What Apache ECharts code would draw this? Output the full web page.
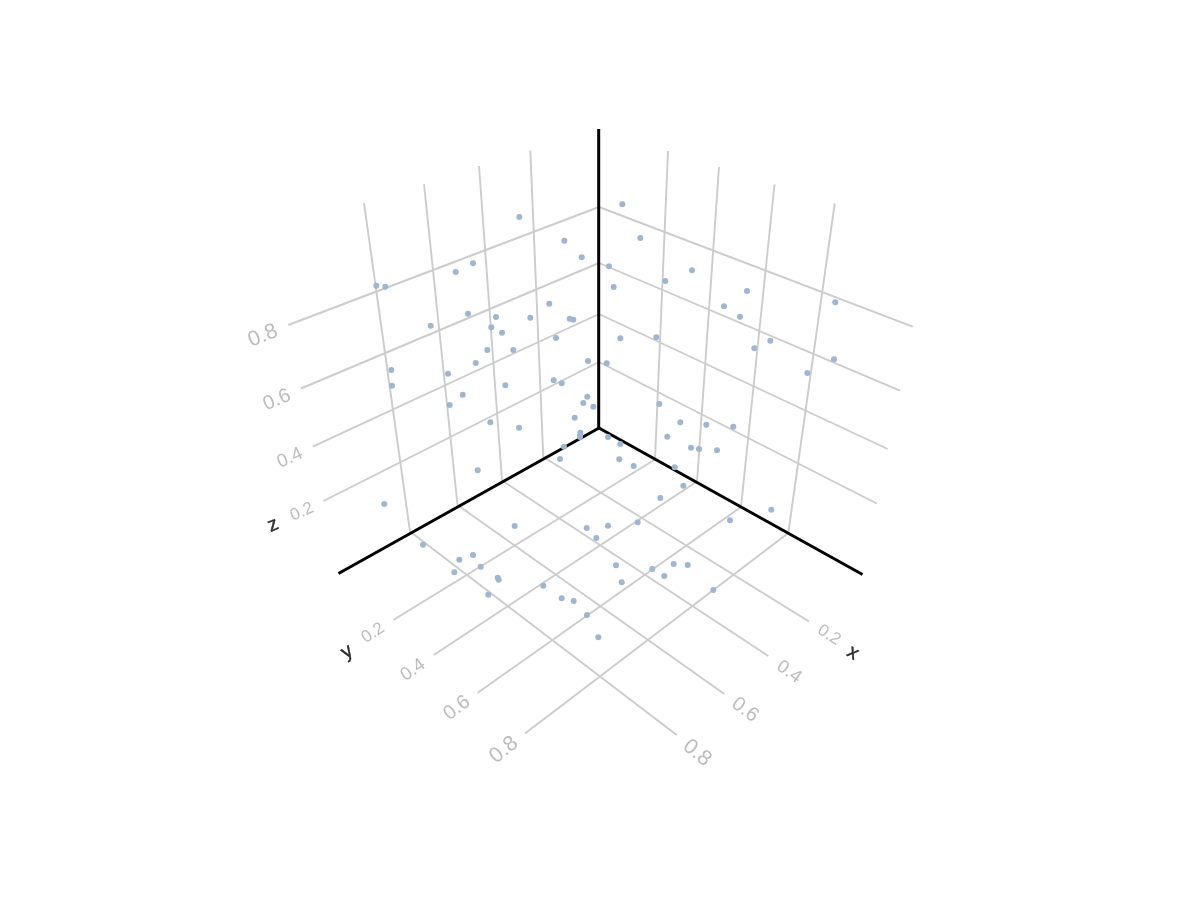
<!DOCTYPE html>
<html>
<head>
<meta charset="utf-8">
<style>html,body{margin:0;padding:0;background:#fff}#c{width:1200px;height:900px}</style>
<script src="https://cdn.jsdelivr.net/npm/echarts@6/dist/echarts.min.js"></script>
</head>
<body>
<div id="c"></div>
<script>
// All values are read in the projected plane of the 3D view.
const scatterPoints = [
[519.3,217],[564.3,240.7],[581.7,257.3],[473,263.3],[455.7,272],[376.3,285.7],[385.3,286.7],[549.3,303.7],
[468,313.7],[430.7,325.7],[496,317],[530.3,317.7],[569.7,318.7],[573.3,319.7],[491.3,327.3],[502,332.7],
[556,338],[487.3,350],[513.3,350],[391.3,370],[392,385.7],[448,373.7],[475.7,363],[588,361],[505.3,385.3],
[553.7,380.3],[561.7,383.3],[462.7,394.7],[449.7,405],[587.3,396.7],[583.3,403],[593.3,406.7],[574.7,417.7],
[490.3,422.3],[519,427.7],[580.3,432.7],[580.2,435],[580,437],[564,446.7],[560,459],[477.7,470.3],[384.3,504],
[514.7,526],[586.7,528],[596.3,538],[423,544.7],[473,555],[459.3,559.7],[480.7,566.7],[454.3,572.3],
[497.7,577.7],[498.7,579.7],[622.3,204.3],[640.3,238],[609,266.3],[692,270.3],[665.3,281],[613.7,287],
[747,291],[724,306.3],[740,316.7],[835.3,302.3],[620.3,338.3],[656.3,337.3],[770.3,340.7],[754.3,348.3],
[834,359.3],[807.3,373],[606.7,363.3],[659.3,404],[680.3,422.3],[706.3,424.7],[733.3,426.7],[667.3,436.7],
[608,437],[620.3,444],[691,447.7],[699,449],[717,450.3],[619.3,459.3],[633.7,466],[674.7,467.3],[683.3,485.7],
[660.3,498],[771.3,509.7],[730,520.3],[608,525.7],[637.7,522.3],[616,565.3],[652.3,569],[673.7,564],[687.7,565],
[664.3,576],[543.3,585.7],[488.3,594.7],[561.7,598.3],[573.7,601],[587,615],[598.3,637.3],[621.7,582.3],[713.3,590]
];
const gridSegments = [
[[410,531.5],[364,203]],[[457.5,505],[424,184]],[[502,480.5],[479,166]],[[543.3,457],[530.3,150.5]],
[[655,459.5],[668,151]],[[697,481.5],[719,167]],[[741,507],[774.5,184.5]],[[788.3,533],[834.7,203.5]],
[[599,207],[288.3,325]],[[599,263],[301,388.5]],[[599,314],[312.7,446.7]],[[599,362],[323.5,501]],
[[599,207],[912.7,326.7]],[[599,263],[900,390.7]],[[599,314],[887.7,449]],[[599,362],[876.7,503.5]],
[[543.3,457],[809,621.5]],[[502,480.5],[768.3,656]],[[457.5,505],[724.3,694]],[[410,531.5],[676.7,735]],
[[655,459.5],[393.3,620]],[[697,481.5],[433.7,655]],[[741,507],[477.7,692.7]],[[788.3,533],[525,733.5]]
];
const axisSegments = [
[[598.7,428],[598.7,129]],[[599,428],[338.5,573.5]],[[599,428],[862.5,574.5]]
];
const tickLabels = ['0.2','0.4','0.6','0.8'];
const zTickPlaces = [[302,512,17,24],[290,458,18.5,24],[277,400,20,23],[263,336,21.5,22]];
const yTickPlaces = [[373,633,17,33],[413,670,18.5,35],[457,708,20,37],[504,750,21.5,39]];
const xTickPlaces = [[829,635,17,-33],[789,672,18.5,-35],[745,710,20,-37],[697,753,21.5,-39]];
const axisNames = ['x','y','z'];
const axisNamePlaces = [[853,653,20,-32],[347,652,20,32],[273,525,20,22]];

const lineSeries = (segs, color, width, z) => segs.map(seg => ({
  type: 'line', data: seg, symbol: 'none', silent: true, z,
  lineStyle: {color, width, cap: 'butt'}
}));
const textSeries = (texts, places, color, stroke, z) => ({
  type: 'scatter', symbolSize: 1, itemStyle: {color: 'rgba(0,0,0,0)'}, silent: true, z,
  labelLayout: {hideOverlap: false},
  data: places.map((p, i) => ({
    value: [p[0], p[1]],
    label: {
      show: true, position: 'inside', formatter: texts[i], color,
      fontFamily: 'Liberation Sans', fontSize: p[2], rotate: p[3],
      align: 'center', verticalAlign: 'middle',
      textBorderColor: color, textBorderWidth: stroke
    }
  }))
});

const chart = echarts.init(document.getElementById('c'), null, {renderer: 'canvas'});
chart.setOption({
  animation: false,
  backgroundColor: '#ffffff',
  tooltip: {show: false},
  grid: {left: 0, right: 0, top: 0, bottom: 0},
  xAxis: {type: 'value', min: 0, max: 1200, show: false},
  yAxis: {type: 'value', min: 0, max: 900, inverse: true, show: false},
  series: [
    ...lineSeries(gridSegments, '#cccccc', 1.9, 1),
    ...lineSeries(axisSegments, '#000000', 3, 2),
    {type: 'scatter', data: scatterPoints, symbolSize: 6, silent: true, z: 3,
     itemStyle: {color: '#9eb6d1', opacity: 1}},
    textSeries(tickLabels, zTickPlaces, '#ababab', 0, 4),
    textSeries(tickLabels, yTickPlaces, '#ababab', 0, 4),
    textSeries(tickLabels, xTickPlaces, '#ababab', 0, 4),
    textSeries(axisNames, axisNamePlaces, '#000000', 0.4, 4)
  ]
});
</script>
</body>
</html>
